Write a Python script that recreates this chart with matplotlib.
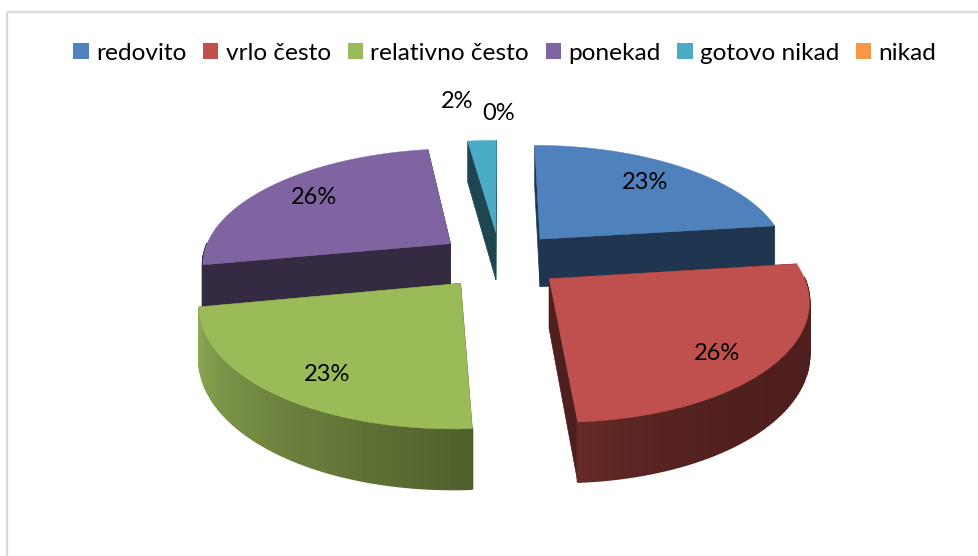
import numpy as np
from matplotlib import pyplot as plt
from matplotlib.colors import to_rgb
from matplotlib.patches import Patch, Rectangle

plt.rcParams['font.family'] = ['Lato', 'DejaVu Sans']

# Values, labels are the rounded ones it prints
categories = ["redovito", "vrlo često", "relativno često", "ponekad", "gotovo nikad", "nikad"]
values = [23, 26, 23, 25.8, 2.2, 0]
labels = ["23%", "26%", "23%", "26%", "2%", "0%"]

# Colours
top_colors = ["#4F81BD", "#C0504D", "#9BBB59", "#8064A2", "#4BACC6", "#F79646"]
side_colors = ["#1F3550", "#4E1F1D", "#50602C", "#342A41", "#1E4650", "#F79646"]
arc_start_colors = ["#1F3550", "#4E1F1D", "#50602C", "#342A41", "#1E4650", "#F79646"]
arc_end_colors = ["#1F3550", "#652A27", "#8CA853", "#342A41", "#1E4650", "#F79646"]
arc_curve = [1, 5, 1, 1, 1, 1]

# Projection of the tilted pie, in pixels
cx, cy = 500, 260
radius = 249
tilt = 0.46
persp = 0.157
explode = 0.25
depth = 49
label_r = 0.78
label_nudge = {0: (-6, 1), 1: (-3, 10), 2: (7, 8), 3: (4, 0)}
font_size = 17


def project(x, y, z=0.0):
    w = 1 / (1 + persp * y)
    return cx + radius * x * w, cy - radius * tilt * y * w + depth * z * w


def mix(c1, c2, t):
    a, b = np.array(to_rgb(c1)), np.array(to_rgb(c2))
    return tuple(a + (b - a) * t)


fig = plt.figure(figsize=(9.79, 5.56), dpi=100)
ax = fig.add_axes([0, 0, 1, 1])
ax.set_xlim(0, 979)
ax.set_ylim(556, 0)
ax.axis("off")

# Chart frame, it runs off the picture at the right and the bottom
ax.add_patch(Rectangle((7, 12), 1000, 600, fill=False, edgecolor="#D9D9D9", linewidth=1.6))

# Slice angles, clockwise from the top
fractions = np.array(values) / sum(values)
ends = 90 - 360 * np.cumsum(fractions)
starts = ends + 360 * fractions

slices = []
for i in range(len(values)):
    if values[i] == 0:
        continue
    mid = np.radians((starts[i] + ends[i]) / 2)
    ox, oy = explode * np.cos(mid), explode * np.sin(mid)
    slices.append((i, ox, oy))

# Back slices first
slices.sort(key=lambda s: -s[2])

for i, ox, oy in slices:
    angles = np.radians(np.linspace(starts[i], ends[i], 60))
    xs = ox + np.cos(angles)
    ys = oy + np.sin(angles)

    # cut faces
    for j in [0, -1]:
        pts = [project(ox, oy), project(xs[j], ys[j]), project(xs[j], ys[j], 1), project(ox, oy, 1)]
        ax.fill(*zip(*pts), color=side_colors[i], linewidth=0.5)

    # outer wall, only the part facing us; thick edges hide the seams between strips
    for j in range(len(angles) - 1):
        if np.sin(angles[j]) > 0 and np.sin(angles[j + 1]) > 0:
            continue
        pts = [project(xs[j], ys[j]), project(xs[j + 1], ys[j + 1]),
               project(xs[j + 1], ys[j + 1], 1), project(xs[j], ys[j], 1)]
        t = (j / (len(angles) - 2)) ** arc_curve[i]
        c = mix(arc_start_colors[i], arc_end_colors[i], t)
        ax.fill(*zip(*pts), color=c, linewidth=1.5, joinstyle="bevel")

    # top face
    pts = [project(ox, oy)] + [project(x, y) for x, y in zip(xs, ys)]
    ax.fill(*zip(*pts), color=top_colors[i], linewidth=0.3)

# Percent labels on the big slices
for i, ox, oy in slices:
    if i not in label_nudge:
        continue
    mid = np.radians((starts[i] + ends[i]) / 2)
    px, py = project(ox + label_r * np.cos(mid), oy + label_r * np.sin(mid))
    ax.text(px + label_nudge[i][0], py + label_nudge[i][1], labels[i],
            ha="center", va="center", fontsize=font_size, color="black")

# The two small labels sit outside the pie
ax.text(457, 102, labels[4], ha="center", va="center", fontsize=font_size, color="black")
ax.text(499, 114, labels[5], ha="center", va="center", fontsize=font_size, color="black")

handles = [Patch(facecolor=c, edgecolor="none") for c in top_colors]
fig.legend(handles, categories, ncol=6, loc="center", bbox_to_anchor=(505 / 979, 1 - 53 / 556),
           frameon=False, fontsize=17.6, handlelength=0.62, handleheight=0.62,
           handletextpad=0.3, columnspacing=0.69, borderpad=0, borderaxespad=0)

fig.savefig("out.png", dpi=100, facecolor="white")
